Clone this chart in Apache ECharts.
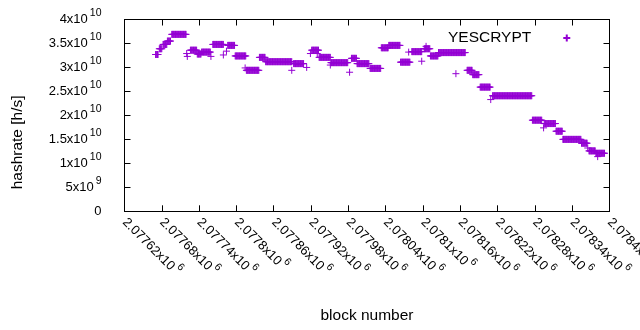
<!DOCTYPE html>
<html>
<head>
<meta charset="utf-8">
<script src="https://cdn.jsdelivr.net/npm/echarts@6/dist/echarts.min.js"></script>
<style>
  html, body { margin: 0; padding: 0; background: #fff; }
  #chart { width: 640px; height: 330px; }
</style>
</head>
<body>
<div id="chart"></div>
<script>
// runs of consecutive blocks that share one hashrate reading
const runStart = [2077670, 2077676, 2077682, 2077689, 2077696, 2077720, 2077721, 2077726, 2077737, 2077744,
  2077759, 2077762, 2077779, 2077784, 2077786, 2077798, 2077814, 2077816, 2077837, 2077847,
  2077889, 2077892, 2077913, 2077919, 2077921, 2077930, 2077933, 2077951, 2077952, 2077982,
  2077985, 2077994, 2078015, 2078033, 2078045, 2078064, 2078077, 2078082, 2078098, 2078102,
  2078105, 2078112, 2078125, 2078153, 2078171, 2078180, 2078192, 2078209, 2078212, 2078276,
  2078294, 2078295, 2078314, 2078325, 2078355, 2078365, 2078367, 2078378, 2078381];
const runEnd = [2077674, 2077680, 2077688, 2077694, 2077719, 2077720, 2077721, 2077736, 2077743, 2077758,
  2077759, 2077779, 2077779, 2077784, 2077797, 2077815, 2077814, 2077836, 2077846, 2077889,
  2077889, 2077908, 2077913, 2077919, 2077932, 2077930, 2077951, 2077951, 2077979, 2077982,
  2077993, 2078013, 2078032, 2078044, 2078063, 2078079, 2078077, 2078098, 2078098, 2078111,
  2078105, 2078124, 2078168, 2078153, 2078179, 2078190, 2078208, 2078209, 2078275, 2078291,
  2078294, 2078313, 2078324, 2078354, 2078364, 2078365, 2078377, 2078392, 2078381];
const runHash = [3.27e10, 3.39e10, 3.48e10, 3.55e10, 3.69e10, 3.29e10, 3.23e10, 3.36e10, 3.28e10, 3.32e10,
  3.23e10, 3.48e10, 3.26e10, 3.34e10, 3.46e10, 3.24e10, 2.99e10, 2.94e10, 3.21e10, 3.12e10,
  2.94e10, 3.08e10, 3.00e10, 3.29e10, 3.36e10, 3.29e10, 3.21e10, 3.05e10, 3.10e10, 2.90e10,
  3.19e10, 3.08e10, 2.98e10, 3.41e10, 3.46e10, 3.11e10, 3.32e10, 3.33e10, 3.13e10, 3.39e10,
  3.44e10, 3.24e10, 3.31e10, 2.87e10, 2.94e10, 2.85e10, 2.59e10, 2.33e10, 2.41e10, 1.90e10,
  1.74e10, 1.83e10, 1.67e10, 1.50e10, 1.42e10, 1.32e10, 1.26e10, 1.21e10, 1.14e10];

const seriesName = 'YESCRYPT';
const xMin = 2077620, xMax = 2078400, xStep = 60;
const yMin = 0, yMax = 4e10, yStep = 5e9;

// one point per block
const points = [];
runStart.forEach((s, i) => {
  for (let b = s; b <= runEnd[i]; b++) points.push([b, runHash[i]]);
});

const purple = '#9400d3';
const font = 'Liberation Sans, Arial, sans-serif';
const plus = 'path://M0,3.5H7M3.5,0V7';

const supRich = {
  m: { fontFamily: font, fontSize: 13, color: '#000', lineHeight: 24, verticalAlign: 'middle' },
  s: { fontFamily: font, fontSize: 10.5, color: '#000', lineHeight: 24, verticalAlign: 'top', padding: [0, 0, 0, 2] }
};

// gnuplot-like "a x10^b" labels
function sciLabel(v) {
  if (v === 0) return '{m|0}';
  const exp = Math.floor(Math.log10(Math.abs(v)));
  const mant = Number((v / Math.pow(10, exp)).toFixed(6));
  return '{m|' + mant + 'x10}{s|' + exp + '}';
}

const chart = echarts.init(document.getElementById('chart'));

const option = {
  animation: false,
  backgroundColor: '#fff',
  grid: { left: 124.5, right: 30.5, top: 19.5, bottom: 118.7, outerBoundsMode: 'none' },
  legend: {
    data: [{ name: seriesName, icon: plus }],
    left: 443,
    top: 24,
    align: 'right',
    itemWidth: 7,
    itemHeight: 7,
    itemGap: 0,
    textStyle: { fontFamily: font, fontSize: 15.5, color: '#000', lineHeight: 18, padding: [0, 27, 0, 0] }
  },
  xAxis: [
    {
      type: 'value',
      min: xMin, max: xMax, interval: xStep,
      name: 'block number',
      nameLocation: 'middle',
      nameGap: 96,
      nameTextStyle: { fontFamily: font, fontSize: 15.5, color: '#000' },
      axisLine: { onZero: false, lineStyle: { color: '#000', width: 1 } },
      axisTick: { inside: true, length: 6, lineStyle: { color: '#000' } },
      axisLabel: {
        rotate: -45,
        margin: 9,
        showMinLabel: true,
        showMaxLabel: true,
        hideOverlap: false,
        formatter: v => sciLabel(v),
        rich: supRich
      },
      splitLine: { show: false }
    },
    {
      type: 'value', position: 'top',
      min: xMin, max: xMax, interval: xStep,
      axisLine: { onZero: false, lineStyle: { color: '#000', width: 1 } },
      axisTick: { inside: true, length: 6, lineStyle: { color: '#000' } },
      axisLabel: { show: false },
      splitLine: { show: false }
    }
  ],
  yAxis: [
    {
      type: 'value',
      min: yMin, max: yMax, interval: yStep,
      name: 'hashrate [h/s]',
      nameLocation: 'middle',
      nameGap: 99,
      nameTextStyle: { fontFamily: font, fontSize: 15.5, color: '#000', padding: [0, 54, 0, 0] },
      axisLine: { show: true, onZero: false, lineStyle: { color: '#000', width: 1 } },
      axisTick: { show: true, inside: true, length: 6, lineStyle: { color: '#000' } },
      axisLabel: {
        margin: 23,
        showMinLabel: true,
        showMaxLabel: true,
        formatter: v => sciLabel(v),
        rich: supRich
      },
      splitLine: { show: false }
    },
    {
      type: 'value', position: 'right',
      min: yMin, max: yMax, interval: yStep,
      axisLine: { show: true, onZero: false, lineStyle: { color: '#000', width: 1 } },
      axisTick: { show: true, inside: true, length: 6, lineStyle: { color: '#000' } },
      axisLabel: { show: false },
      splitLine: { show: false }
    }
  ],
  series: [
    {
      name: seriesName,
      type: 'scatter',
      xAxisIndex: 0,
      yAxisIndex: 0,
      symbol: plus,
      symbolSize: 7,
      itemStyle: { color: purple, borderColor: purple, borderWidth: 1, opacity: 1 },
      data: points
    }
  ]
};

chart.setOption(option);
</script>
</body>
</html>
